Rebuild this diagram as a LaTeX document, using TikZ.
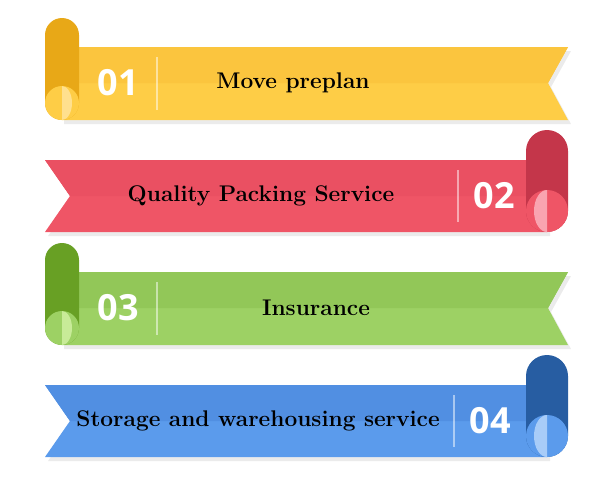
\documentclass[tikz,border=0pt]{standalone}
\usepackage{fontspec}
\newfontfamily\numfont{Open Sans}
\usepackage{tikz}

\definecolor{yelTop}{HTML}{FBC53E}\definecolor{yelBot}{HTML}{FECD46}
\definecolor{yelDark}{HTML}{E8A817}\definecolor{yelPale}{HTML}{FFE08E}
\definecolor{redTop}{HTML}{EA5062}\definecolor{redBot}{HTML}{EF5566}
\definecolor{redDark}{HTML}{C4364A}\definecolor{redPale}{HTML}{F9A4B0}
\definecolor{grnTop}{HTML}{92C758}\definecolor{grnBot}{HTML}{9DD164}
\definecolor{grnDark}{HTML}{68A024}\definecolor{grnPale}{HTML}{C8EB98}
\definecolor{bluTop}{HTML}{518FE2}\definecolor{bluBot}{HTML}{5B9BEC}
\definecolor{bluDark}{HTML}{275DA2}\definecolor{bluPale}{HTML}{A8CCF8}

% ribbon with the roll on the left: #1 top, #2 colour prefix, #3 number, #4 label, #5 label x, #6 name
\newcommand{\ribbonleft}[6]{%
  \pgfmathsetmacro{\yb}{#1+73}\pgfmathsetmacro{\ym}{#1+36}\pgfmathsetmacro{\yr}{#1-29}\pgfmathsetmacro{\yc}{#1+56}
  \fill[black,opacity=.08] (64,#1+4) -- (571,#1+4) -- (551,\ym+4) -- (571,\yb+4) -- (64,\yb+4) -- cycle;
  \fill[#2Bot] (62,#1) -- (568,#1) -- (548,\ym) -- (568,\yb) -- (62,\yb) -- cycle;
  \fill[#2Top] (62,#1) -- (568,#1) -- (548,\ym) -- (62,\ym) -- cycle;
  \fill[#2Dark,rounded corners=12.75pt] (45,\yr) rectangle (79,\yb);
  \fill[#2Bot] (62,\yc) circle [radius=17];
  \begin{scope}
    \clip (62,\yc) circle [radius=17];
    \clip (62,\yc-17) rectangle (80,\yc+17);
    \fill[#2Pale] (62,\yc) ellipse [x radius=10, y radius=17];
  \end{scope}
  \draw[divider] (157,#1+10) -- (157,\yb-10);
  \node[numtext] (#6num) at (118,\ym) {#3};
  \node[labeltext] (#6lab) at (#5,\ym) {#4};
}
% ribbon with the roll on the right
\newcommand{\ribbonright}[7]{%
  \pgfmathsetmacro{\yb}{#1+72}\pgfmathsetmacro{\ym}{#1+36}\pgfmathsetmacro{\yr}{#1-30}\pgfmathsetmacro{\yc}{#1+51}
  \fill[black,opacity=.08] (48,#1+4) -- (550,#1+4) -- (550,\yb+4) -- (48,\yb+4) -- (73,\ym+4) -- cycle;
  \fill[#2Bot] (45,#1) -- (547,#1) -- (547,\yb) -- (45,\yb) -- (70,\ym) -- cycle;
  \fill[#2Top] (45,#1) -- (547,#1) -- (547,\ym) -- (70,\ym) -- cycle;
  \fill[#2Dark,rounded corners=15.75pt] (526,\yr) rectangle (568,\yb);
  \fill[#2Bot] (547,\yc) circle [radius=21];
  \begin{scope}
    \clip (547,\yc) circle [radius=21];
    \clip (525,\yc-21) rectangle (547,\yc+21);
    \fill[#2Pale] (547,\yc) ellipse [x radius=13, y radius=21];
  \end{scope}
  \draw[divider] (#6,#1+10) -- (#6,\yb-10);
  \node[numtext] (#7num) at (#6+36,\ym) {#3};
  \node[labeltext] (#7lab) at (#5,\ym) {#4};
}

\begin{document}
\begin{tikzpicture}[x=0.75pt,y=-0.75pt]
\tikzset{divider/.style={white,opacity=.5,line width=1.2pt},
  numtext/.style={text=white,font=\numfont\bfseries\fontsize{27}{30}\selectfont},
  labeltext/.style={text=black,font=\bfseries\fontsize{17}{20}\selectfont}}
\useasboundingbox (0,0) rectangle (615,500);

\ribbonleft{47}{yel}{01}{Move preplan}{293}{move}
\ribbonright{160}{red}{02}{Quality Packing Service}{261}{458}{pack}
\ribbonleft{272}{grn}{03}{Insurance}{316}{insur}
\ribbonright{385}{blu}{04}{Storage and warehousing service}{258}{454}{store}

\end{tikzpicture}
\end{document}
